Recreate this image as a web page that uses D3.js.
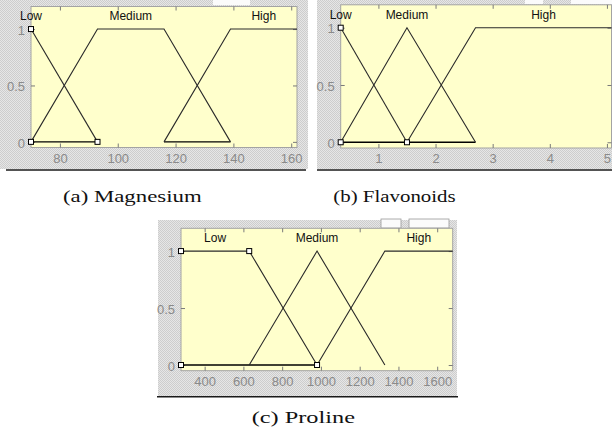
<!DOCTYPE html>
<html>
<head>
<meta charset="utf-8">
<script src="https://cdn.jsdelivr.net/npm/d3@7"></script>
<style>
  html, body { margin: 0; padding: 0; background: #ffffff; }
  svg { display: block; }
  .tick text { font-family: "Liberation Sans", Arial, sans-serif; font-size: 13px; fill: #8a8a8a; }
  .tick line { stroke: #7a7a7a; }
</style>
</head>
<body>
<svg id="fig" width="612" height="436"></svg>
<script>
// Membership-function breakpoints [x, membership] for each linguistic term
const termNames = ["Low", "Medium", "High"];
const muTicks = [0, 0.5, 1];
const muRange = [-0.05, 1.2];

const magnesiumRange = [70, 162];
const magnesiumTicks = [80, 100, 120, 140, 160];
const magnesiumLow = [[70, 1], [93, 0]];
const magnesiumMedium = [[70, 0], [93, 1], [116, 1], [139, 0]];
const magnesiumHigh = [[116, 0], [139, 1], [162, 1]];
const magnesiumBase = [[70, 93], [116, 139]];
const magnesiumHandles = [[70, 1], [70, 0], [93, 0]];

const flavonoidRange = [0.34, 5.08];
const flavonoidTicks = [1, 2, 3, 4, 5];
const flavonoidLow = [[0.34, 1], [1.5, 0]];
const flavonoidMedium = [[0.34, 0], [1.5, 1], [2.7, 0]];
const flavonoidHigh = [[1.5, 0], [2.7, 1], [5.08, 1]];
const flavonoidBase = [[0.34, 2.7]];
const flavonoidHandles = [[0.34, 1], [0.34, 0], [1.5, 0]];

const prolineRange = [278, 1680];
const prolineTicks = [400, 600, 800, 1000, 1200, 1400, 1600];
const prolineLow = [[278, 1], [630, 1], [980, 0]];
const prolineMedium = [[630, 0], [980, 1], [1330, 0]];
const prolineHigh = [[980, 0], [1330, 1], [1680, 1]];
const prolineBase = [[278, 980]];
const prolineHandles = [[278, 1], [278, 0], [630, 1], [980, 0]];

const captions = ["(a) Magnesium", "(b) Flavonoids", "(c) Proline"];

const svg = d3.select("#fig");

// Window-background texture
const defs = svg.append("defs");
const pat = defs.append("pattern").attr("id", "winbg")
  .attr("width", 2).attr("height", 2).attr("patternUnits", "userSpaceOnUse");
pat.append("rect").attr("width", 2).attr("height", 2).attr("fill", "#e6e6e6");
pat.append("rect").attr("x", 0).attr("y", 0).attr("width", 1).attr("height", 1).attr("fill", "#cdcdcd");
pat.append("rect").attr("x", 1).attr("y", 1).attr("width", 1).attr("height", 1).attr("fill", "#cdcdcd");

function drawPanel(p) {
  const g = svg.append("g");
  // window frame
  g.append("rect").attr("x", p.frame[0]).attr("y", p.frame[1])
    .attr("width", p.frame[2]).attr("height", p.frame[3]).attr("fill", "url(#winbg)");
  (p.patches || []).forEach(r => {
    g.append("rect").attr("x", r[0]).attr("y", r[1]).attr("width", r[2]).attr("height", r[3])
      .attr("fill", "#fbfbfb").attr("stroke", r[4] ? "#9a9a9a" : "none").attr("stroke-width", 0.8);
  });
  g.append("line").attr("x1", p.rule[0]).attr("x2", p.rule[1])
    .attr("y1", p.rule[2]).attr("y2", p.rule[2])
    .attr("stroke", "#1a1a1a").attr("stroke-width", 1.6);

  const x = d3.scaleLinear().domain(p.range).range([p.left, p.right]);
  const y = d3.scaleLinear().domain(muRange).range([p.bottom, p.top]);

  g.append("rect").attr("x", p.left).attr("y", p.top)
    .attr("width", p.right - p.left).attr("height", p.bottom - p.top)
    .attr("fill", "#ffffcc").attr("stroke", "#a3a3a3").attr("stroke-width", 1);

  // axes with inward ticks on all four sides
  const ax = g.append("g").attr("transform", `translate(0,${p.bottom})`)
    .call(d3.axisBottom(x).tickValues(p.ticks).tickSize(-4).tickPadding(6).tickFormat(d3.format("")));
  const axTop = g.append("g").attr("transform", `translate(0,${p.top})`)
    .call(d3.axisTop(x).tickValues(p.ticks).tickSize(-4).tickFormat(""));
  const ay = g.append("g").attr("transform", `translate(${p.left},0)`)
    .call(d3.axisLeft(y).tickValues(muTicks).tickSize(-4).tickPadding(6).tickFormat(d3.format("")));
  const ayR = g.append("g").attr("transform", `translate(${p.right},0)`)
    .call(d3.axisRight(y).tickValues(muTicks).tickSize(-4).tickFormat(""));
  [ax, axTop, ay, ayR].forEach(a => a.select(".domain").remove());
  ax.selectAll("text").attr("dy", "0.72em");
  ay.selectAll("text").attr("dy", "0.4em");

  const line = d3.line().x(d => x(d[0])).y(d => y(d[1]));
  const plot = g.append("g");
  p.base.forEach(s => {
    plot.append("path").attr("d", line([[s[0], 0], [s[1], 0]]))
      .attr("fill", "none").attr("stroke", "#000").attr("stroke-width", 1.3);
  });
  p.sets.forEach(s => {
    plot.append("path").attr("d", line(s))
      .attr("fill", "none").attr("stroke", "#2a2a2a").attr("stroke-width", 1.1);
  });
  plot.selectAll("rect.h").data(p.handles).enter().append("rect")
    .attr("x", d => x(d[0]) - 2.5).attr("y", d => y(d[1]) - 2.5)
    .attr("width", 5).attr("height", 5)
    .attr("fill", "#ffffff").attr("stroke", "#000").attr("stroke-width", 1);

  // term names centred over each plateau
  p.sets.forEach((s, i) => {
    const top = s.filter(d => d[1] === 1).map(d => d[0]);
    g.append("text").attr("x", x(d3.mean(top))).attr("y", y(1) - 9)
      .attr("text-anchor", "middle")
      .attr("font-family", "'Liberation Sans', Arial, sans-serif").attr("font-size", 12)
      .attr("fill", "#111").text(termNames[i]);
  });

  svg.append("text").attr("x", p.caption[0]).attr("y", p.caption[1])
    .attr("text-anchor", "middle")
    .attr("font-family", "'Liberation Serif', 'Times New Roman', serif").attr("font-size", 17.5)
    .attr("textLength", p.caption[2]).attr("lengthAdjust", "spacingAndGlyphs")
    .attr("fill", "#111").text(p.label);
}

drawPanel({
  range: magnesiumRange, ticks: magnesiumTicks,
  sets: [magnesiumLow, magnesiumMedium, magnesiumHigh],
  base: magnesiumBase, handles: magnesiumHandles,
  left: 31, right: 297, top: 6.5, bottom: 147.5,
  frame: [0, 0, 308, 169], rule: [6, 306, 170],
  patches: [[213, 0, 37, 5, false]],
  caption: [132.3, 201.7, 138.7], label: captions[0]
});

drawPanel({
  range: flavonoidRange, ticks: flavonoidTicks,
  sets: [flavonoidLow, flavonoidMedium, flavonoidHigh],
  base: flavonoidBase, handles: flavonoidHandles,
  left: 340.7, right: 611.5, top: 4.8, bottom: 148,
  frame: [317, 0, 295, 169], rule: [317, 612, 170],
  patches: [[525, 0, 18, 4, false], [571, 0, 41, 4, false]],
  caption: [394.5, 201.7, 122.4], label: captions[1]
});

drawPanel({
  range: prolineRange, ticks: prolineTicks,
  sets: [prolineLow, prolineMedium, prolineHigh],
  base: prolineBase, handles: prolineHandles,
  left: 181, right: 452.7, top: 228.3, bottom: 370.7,
  frame: [158, 220, 299, 176], rule: [157, 458, 396.7],
  patches: [[381, 219, 20, 9, true], [409, 219, 40, 9, true]],
  caption: [303.3, 423.3, 103.3], label: captions[2]
});
</script>
</body>
</html>
